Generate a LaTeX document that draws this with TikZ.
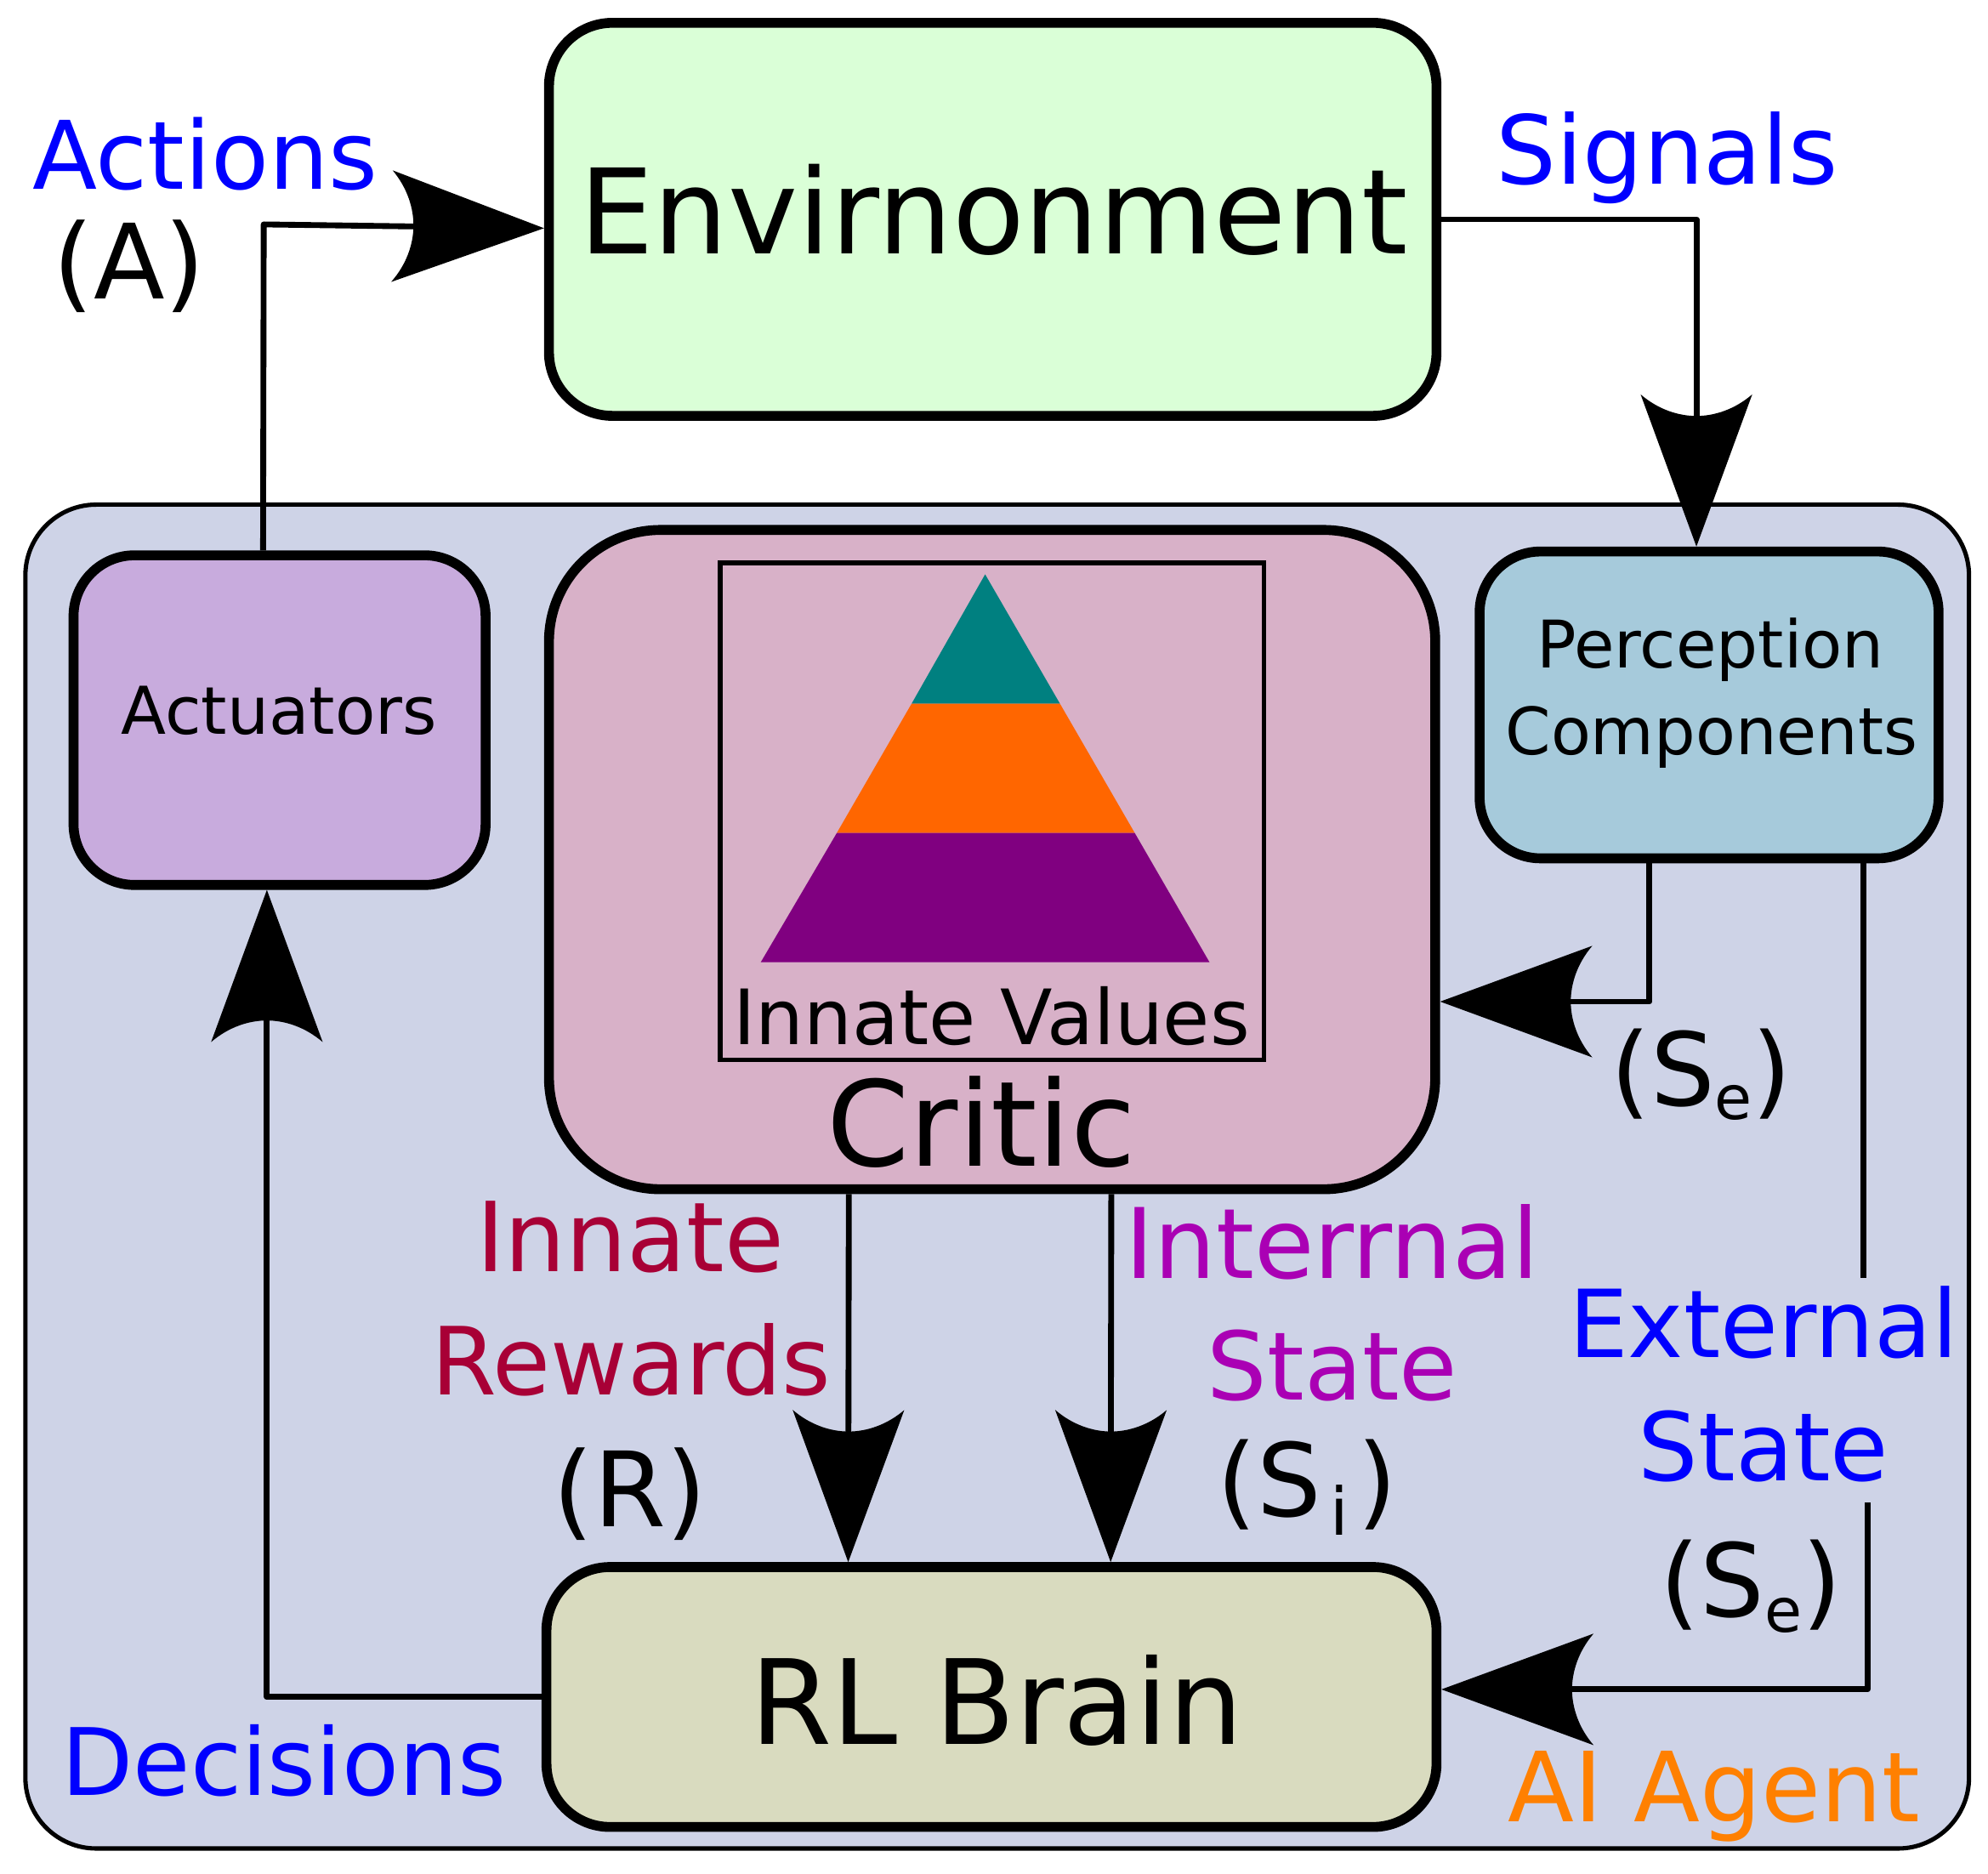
\documentclass[tikz,border=0pt]{standalone}
\usepackage{fontspec}
\setmainfont{DejaVu Sans}
\usetikzlibrary{arrows.meta}
\definecolor{envfill}{HTML}{DAFFD7}
\definecolor{agentfill}{HTML}{CED3E7}
\definecolor{actfill}{HTML}{C8ABDD}
\definecolor{criticfill}{HTML}{D8B1C8}
\definecolor{percfill}{HTML}{A6CADB}
\definecolor{brainfill}{HTML}{D9DBBF}
\definecolor{rewardred}{HTML}{A80036}
\definecolor{internalpurple}{HTML}{AA00B4}
\definecolor{agentorange}{HTML}{FF8000}
\definecolor{pyrorange}{HTML}{FF6600}
\definecolor{pyrpurple}{HTML}{800080}
\pgfdeclarearrow{
  name=HornHead,
  setup code={
    \pgfarrowssettipend{0pt}
    \pgfarrowssetlineend{-50pt}
    \pgfarrowssetvisualbackend{-60pt}
    \pgfarrowssetbackend{-60pt}
    \pgfarrowshullpoint{0pt}{0pt}
    \pgfarrowshullpoint{-60pt}{22pt}
    \pgfarrowshullpoint{-60pt}{-22pt}
  },
  drawing code={
    \pgfpathmoveto{\pgfpoint{0pt}{0pt}}
    \pgfpathlineto{\pgfpoint{-60pt}{22pt}}
    \pgfpathcurveto{\pgfpoint{-54pt}{15pt}}{\pgfpoint{-51.5pt}{7pt}}{\pgfpoint{-51.5pt}{0pt}}
    \pgfpathcurveto{\pgfpoint{-51.5pt}{-7pt}}{\pgfpoint{-54pt}{-15pt}}{\pgfpoint{-60pt}{-22pt}}
    \pgfpathclose
    \pgfusepathqfill
  }
}
\newcommand{\sizedfont}[1]{\fontsize{#1}{#1}\selectfont}
\tikzset{
  boxnode/.style n args={3}{draw=black,line width=3.9pt,rounded corners=#3,minimum width=#1,minimum height=#2,inner sep=0pt},
  txt/.style={anchor=base,inner sep=0pt,outer sep=0pt,align=center},
  conn/.style={draw=black,line width=2.3pt,line join=round},
  head/.style={conn,-{HornHead}}
}
\begin{document}
\begin{tikzpicture}[x=0.5pt,y=-0.5pt]
\useasboundingbox (0,0) rectangle (1568,1478);
% containers
\node[boxnode={766.5pt}{530pt}{28pt},line width=1.7pt,fill=agentfill] (agent) at (786.5,928) {};
\node[boxnode={350pt}{155pt}{25pt},fill=envfill] (env) at (783,173) {};
\node[boxnode={162.5pt}{130pt}{24pt},fill=actfill] (act) at (220.5,568) {};
\node[boxnode={349.5pt}{260pt}{44pt},fill=criticfill] (critic) at (782.5,678) {};
\node[boxnode={181pt}{121pt}{24pt},fill=percfill] (perc) at (1348,556) {};
\node[boxnode={351pt}{102.5pt}{25pt},fill=brainfill] (brain) at (782,1338.5) {};
\node[draw=black,line width=1.8pt,minimum width=214.5pt,minimum height=196pt,inner sep=0pt] (frame) at (782.5,640) {};
% pyramid
\fill[teal] (777,453) -- (836,555) -- (719,555) -- cycle;
\fill[pyrorange] (719,555) -- (836,555) -- (895,657) -- (660,657) -- cycle;
\fill[pyrpurple] (660,657) -- (895,657) -- (954,759) -- (600,759) -- cycle;
% box texts
\node[txt,font=\sizedfont{46.5}] (tenv) at (783.5,200) {Envirnonment};
\node[txt,font=\sizedfont{26}] (tact) at (220,579) {Actuators};
\node[txt,font=\sizedfont{25.9}] (tperc1) at (1349,527) {Perception};
\node[txt,font=\sizedfont{25.7}] (tperc2) at (1350,595) {Components};
\node[txt,font=\sizedfont{30.1}] (tval) at (782,824) {Innate Values};
\node[txt,font=\sizedfont{46.7}] (tcrit) at (774,920) {Critic};
\node[txt,font=\sizedfont{46.4}] (tbrain) at (786,1376) {RL Brain};
% labels
\node[txt,text=blue,font=\sizedfont{37.3}] (lact) at (162,149) {Actions};
\node[txt,font=\sizedfont{41}] (la) at (102,236) {(A)};
\node[txt,text=blue,font=\sizedfont{37.5}] (lsig) at (1315,145) {Signals};
\node[txt,font=\sizedfont{40}] (lse1) at (1342,872) {(S\raisebox{-5.5pt}{\sizedfont{24}e})};
\node[txt,text=rewardred,font=\sizedfont{38.1}] (lin1) at (497,1003) {Innate};
\node[txt,text=rewardred,font=\sizedfont{37.1}] (lin2) at (498,1100) {Rewards};
\node[txt,font=\sizedfont{41}] (lr) at (497,1204) {(R)};
\node[txt,text=internalpurple,font=\sizedfont{38.4}] (lint1) at (1051,1008) {Interrnal};
\node[txt,text=internalpurple,font=\sizedfont{37.3}] (lint2) at (1051,1104) {State};
\node[txt,font=\sizedfont{40}] (lsi) at (1031,1196) {(S\kern3.5pt\raisebox{-7.5pt}{\sizedfont{26}i}\kern3.5pt)};
\node[txt,text=blue,font=\sizedfont{37}] (lext1) at (1391,1071) {External};
\node[txt,text=blue,font=\sizedfont{37.3}] (lext2) at (1391,1168) {State};
\node[txt,font=\sizedfont{40}] (lse2) at (1381,1275) {(S\raisebox{-6pt}{\sizedfont{24}e})};
\node[txt,text=blue,font=\sizedfont{36.7}] (ldec) at (224,1416) {Decisions};
\node[txt,text=agentorange,font=\sizedfont{38.2}] (lagent) at (1352,1437) {AI Agent};
% connectors
\coordinate (actcorner) at (208,177);
\coordinate (extbreak1) at (1470,1008);
\coordinate (extbreak2) at (1473,1185);
\coordinate (percturn) at (1301,790);
\draw[head] ([xshift=-6.5pt]act.north) -- (actcorner) -- ([yshift=-3.5pt]env.west);
\draw[head] (env.east) -| ([xshift=-5pt]perc.north);
\draw[head] ([xshift=-23.5pt]perc.south) |- (critic.east |- percturn);
\draw[conn] ([xshift=61pt]perc.south) -- (extbreak1);
\draw[head] (extbreak2) |- ([yshift=3pt]brain.east);
\draw[head] ([xshift=-56.5pt]critic.south) -- ([xshift=-56.5pt]brain.north);
\draw[head] ([xshift=47pt]critic.south) -- ([xshift=47pt]brain.north);
\draw[head] (brain.west) -| ([xshift=-5pt]act.south);
\end{tikzpicture}
\end{document}
